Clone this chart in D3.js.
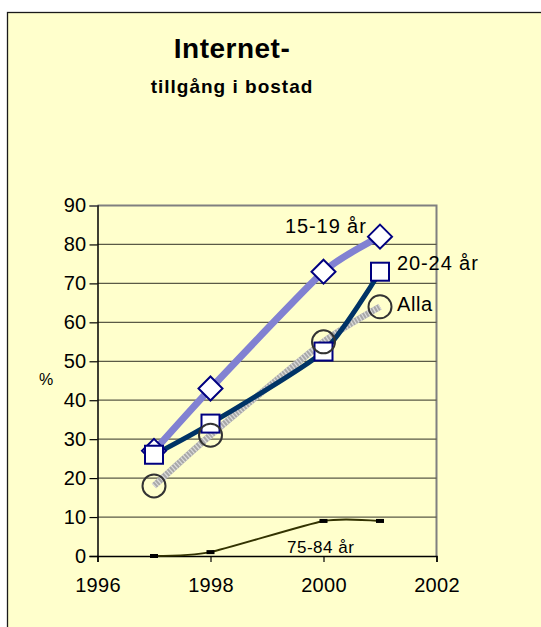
<!DOCTYPE html>
<html>
<head>
<meta charset="utf-8">
<script src="https://cdn.jsdelivr.net/npm/d3@7"></script>
<style>
  html, body { margin: 0; padding: 0; background: #ffffff; }
  svg { display: block; }
  text { font-family: "Liberation Sans", Arial, sans-serif; }
</style>
</head>
<body>
<script>
// Survey years and share (%) with Internet access at home, per age group
const years = [1997, 1998, 2000, 2001];
const age15_19 = [27, 43, 73, 82];
const age20_24 = [26, 34, 52.5, 73];
const alla = [18, 31, 55, 64];
const age75_84 = [0, 1, 9, 9];

const yTicks = [0, 10, 20, 30, 40, 50, 60, 70, 80, 90];
const xTicks = [1996, 1998, 2000, 2002];

const W = 541, H = 627;
const svg = d3.select("body").append("svg").attr("width", W).attr("height", H);

// Chart area with pale yellow fill
svg.append("rect")
  .attr("x", 7.5).attr("y", 12.5)
  .attr("width", W + 10).attr("height", H + 10)
  .attr("fill", "#FFFFCC")
  .attr("stroke", "#1a1a1a").attr("stroke-width", 1.3);

// Title
svg.append("text")
  .attr("x", 232).attr("y", 58)
  .attr("text-anchor", "middle")
  .attr("font-size", 28).attr("font-weight", "bold")
  .attr("letter-spacing", 0.5)
  .text("Internet-");
svg.append("text")
  .attr("x", 232).attr("y", 93)
  .attr("text-anchor", "middle")
  .attr("font-size", 19).attr("font-weight", "bold")
  .attr("letter-spacing", 1)
  .text("tillgång i bostad");

const x = d3.scaleLinear().domain([1996, 2002]).range([97.5, 436.5]);
const y = d3.scaleLinear().domain([0, 90]).range([556, 205.5]);

// Plot area border (top/right) in grey
svg.append("path")
  .attr("d", `M${x(1996)},${y(90)}H${x(2002)}V${y(0)}`)
  .attr("fill", "none").attr("stroke", "#808080").attr("stroke-width", 2);

// Horizontal gridlines
svg.append("g").selectAll("line")
  .data(yTicks.filter(t => t > 0 && t < 90))
  .join("line")
  .attr("x1", x(1996)).attr("x2", x(2002))
  .attr("y1", d => y(d)).attr("y2", d => y(d))
  .attr("stroke", "#5a5a46").attr("stroke-width", 1.2);

// Axes
const yAxis = d3.axisLeft(y).tickValues(yTicks).tickSize(8).tickPadding(3);
const xAxis = d3.axisBottom(x).tickValues(xTicks).tickFormat(d3.format("d")).tickSize(6).tickPadding(16);

const gy = svg.append("g").attr("transform", `translate(${x(1996)},0)`).call(yAxis);
const gx = svg.append("g").attr("transform", `translate(0,${y(0)})`).call(xAxis);
[gy, gx].forEach(g => {
  g.select(".domain").attr("stroke", "#000").attr("stroke-width", 1.5);
  g.selectAll(".tick line").attr("stroke", "#000").attr("stroke-width", 1.2);
  g.selectAll(".tick text")
    .attr("font-family", "'Liberation Sans', Arial, sans-serif")
    .attr("font-size", 20).attr("letter-spacing", 0.3).attr("fill", "#000");
});
gy.selectAll(".tick line").filter(d => d === 90).attr("stroke", "#808080");

// Axis unit
svg.append("text")
  .attr("x", 46).attr("y", 385)
  .attr("text-anchor", "middle")
  .attr("font-size", 16)
  .text("%");

// Lightly smoothed lines
const curve = d3.curveCardinal.tension(0.4);
const lineGen = vals => d3.line()
  .x((d, i) => x(years[i]))
  .y(d => y(d))
  .curve(curve)(vals);

// Alla: grey hatched line
svg.append("path").attr("d", lineGen(alla))
  .attr("fill", "none").attr("stroke", "#A8A8A8").attr("stroke-width", 6.5);
svg.append("path").attr("d", lineGen(alla))
  .attr("fill", "none").attr("stroke", "#DCDCDC").attr("stroke-width", 6.5)
  .attr("stroke-dasharray", "1.2 2");

// 15-19 år: periwinkle line
svg.append("path").attr("d", lineGen(age15_19))
  .attr("fill", "none").attr("stroke", "#8181D2").attr("stroke-width", 7);

// 20-24 år: navy line
svg.append("path").attr("d", lineGen(age20_24))
  .attr("fill", "none").attr("stroke", "#003366").attr("stroke-width", 5);

// 75-84 år: thin olive line
svg.append("path").attr("d", lineGen(age75_84))
  .attr("fill", "none").attr("stroke", "#333300").attr("stroke-width", 2);

// Markers
const pts = vals => vals.map((v, i) => ({ x: x(years[i]), y: y(v) }));

svg.append("g").selectAll("path")
  .data(pts(age15_19))
  .join("path")
  .attr("d", d => `M${d.x},${d.y - 12}L${d.x + 12},${d.y}L${d.x},${d.y + 12}L${d.x - 12},${d.y}Z`)
  .attr("fill", "#ffffff").attr("stroke", "#000080").attr("stroke-width", 2);

svg.append("g").selectAll("rect")
  .data(pts(age20_24))
  .join("rect")
  .attr("x", d => d.x - 9).attr("y", d => d.y - 9)
  .attr("width", 18).attr("height", 18)
  .attr("fill", "#ffffff").attr("stroke", "#000080").attr("stroke-width", 2);

svg.append("g").selectAll("circle")
  .data(pts(alla))
  .join("circle")
  .attr("cx", d => d.x).attr("cy", d => d.y).attr("r", 11.5)
  .attr("fill", "none").attr("stroke", "#333333").attr("stroke-width", 2);

svg.append("g").selectAll("rect")
  .data(pts(age75_84))
  .join("rect")
  .attr("x", d => d.x - 4).attr("y", d => d.y - 2)
  .attr("width", 8).attr("height", 4)
  .attr("fill", "#000000");

// Series labels
const labels = [
  { text: "15-19 år", x: 285, y: 233, size: 20, ls: 0.9 },
  { text: "20-24 år", x: 397, y: 270, size: 20, ls: 0.9 },
  { text: "Alla", x: 397, y: 311, size: 20, ls: 0.6 },
  { text: "75-84 år", x: 287, y: 553, size: 17, ls: 0.5 }
];
svg.append("g").selectAll("text")
  .data(labels)
  .join("text")
  .attr("x", d => d.x).attr("y", d => d.y)
  .attr("font-size", d => d.size)
  .attr("letter-spacing", d => d.ls)
  .attr("fill", "#000")
  .text(d => d.text);
</script>
</body>
</html>
